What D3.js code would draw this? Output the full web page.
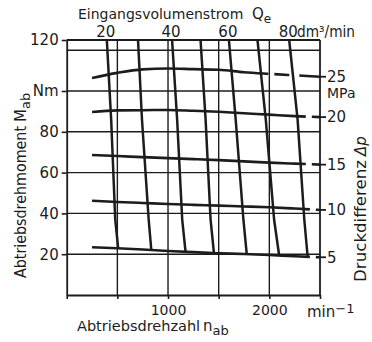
<!DOCTYPE html>
<html>
<head>
<meta charset="utf-8">
<script src="https://cdn.jsdelivr.net/npm/d3@7"></script>
<style>
  html, body { margin: 0; padding: 0; background: #fff; }
  svg { display: block; }
  text { font-family: "DejaVu Sans", sans-serif; fill: #1c1c1c; }
</style>
</head>
<body>
<svg id="chart" width="372" height="342"></svg>
<script>
// Hydraulic motor map: output torque over output speed,
// lines of constant pressure difference and of constant input flow.

// ---- axes ----
const speedMax = 2500;                       // min^-1
const torqueFrameTop = 125;                  // Nm, upper edge of the frame
const speedTicks = [0, 500, 1000, 1500, 2000, 2500];
const speedTickLabels = ["", "", "1000", "", "2000", ""];
const gridSpeeds = [500, 1000, 1500, 2000];
const gridTorques = [20, 40, 60, 80, 100, 120];
const torqueTickValues = [20, 40, 60, 80, 100, 125];
const torqueTickLabels = ["20", "40", "60", "80", "Nm", "120"];

// ---- constant pressure difference curves (MPa) ----
const pressureLevels = [5, 10, 15, 20, 25];
const curveSpeeds = [250, 500, 750, 1000, 1250, 1500, 1750, 2000, 2250, 2500];
const torqueAt5MPa  = [23.4, 22.9, 22.3, 21.6, 21.0, 20.5, 20.1, 19.6, 19.0, 18.5];
const torqueAt10MPa = [46.2, 45.6, 45.1, 44.6, 44.2, 43.8, 43.4, 43.0, 42.4, 41.7];
const torqueAt15MPa = [68.6, 68.1, 67.6, 67.1, 66.6, 66.1, 65.5, 64.9, 64.4, 63.9];
const torqueAt20MPa = [89.7, 90.5, 90.6, 90.7, 90.3, 89.8, 89.1, 88.4, 87.7, 87.2];
const torqueAt25MPa = [106.4, 108.9, 110.6, 111.0, 110.7, 110.4, 109.2, 108.4, 107.7, 107.0];
// speed beyond which each curve is only extrapolated (drawn dashed)
const dashedFrom = [2400, 2400, 2360, 2360, 1990];

// ---- constant input flow lines (dm^3/min) ----
const flowRates = [20, 30, 40, 50, 60, 70, 80];
const flowTorqueLevels = [125, 86, 37];      // Nm, where the speeds below are read
const flowSpeedTop = [396, 704, 1040, 1321, 1601, 1883, 2196];
const flowSpeedMid = [439, 743, 1090, 1371, 1668, 1965, 2279];
const flowSpeedLow = [479, 809, 1140, 1420, 1744, 2047, 2345];
const flowSpeedEnd = [508, 835, 1173, 1453, 1777, 2097, 2378]; // on the 5 MPa curve
const flowLabelRates = [20, 40, 60, 80];

const torqueSeries = [torqueAt5MPa, torqueAt10MPa, torqueAt15MPa, torqueAt20MPa, torqueAt25MPa];

const ink = "#1c1c1c";
const svg = d3.select("#chart");

const x = d3.scaleLinear().domain([0, speedMax]).range([66.7, 320]);
const y = d3.scaleLinear().domain([0, torqueFrameTop]).range([295, 40]);

// ---- grid ----
const grid = svg.append("g").attr("stroke", ink).attr("stroke-width", 1.4);
grid.selectAll("line.v").data(gridSpeeds).join("line").attr("class", "v")
  .attr("x1", d => x(d)).attr("x2", d => x(d))
  .attr("y1", y(0)).attr("y2", y(torqueFrameTop));
grid.selectAll("line.h").data(gridTorques).join("line").attr("class", "h")
  .attr("x1", x(0)).attr("x2", x(speedMax))
  .attr("y1", d => y(d)).attr("y2", d => y(d));

// ---- frame: top and right edges ----
const frame = svg.append("g").attr("stroke", ink).attr("stroke-width", 1.8).attr("fill", "none");
frame.append("line").attr("x1", x(0)).attr("x2", x(speedMax))
  .attr("y1", y(torqueFrameTop)).attr("y2", y(torqueFrameTop));
frame.append("line").attr("x1", x(speedMax)).attr("x2", x(speedMax))
  .attr("y1", y(torqueFrameTop)).attr("y2", y(0));

// ---- bottom axis ----
const bottomAxis = d3.axisBottom(x)
  .tickValues(speedTicks).tickSize(4).tickSizeOuter(0).tickPadding(6.5)
  .tickFormat((d, i) => speedTickLabels[i]);
const gb = svg.append("g").attr("transform", `translate(0,${y(0)})`).call(bottomAxis);

// ---- left axis ----
const leftAxis = d3.axisLeft(y)
  .tickValues(torqueTickValues).tickSize(5).tickSizeOuter(0).tickPadding(3)
  .tickFormat((d, i) => torqueTickLabels[i]);
const gl = svg.append("g").attr("transform", `translate(${x(0)},0)`).call(leftAxis);

[gb, gl].forEach(g => {
  g.attr("font-family", null).attr("font-size", 15);
  g.selectAll("path.domain").attr("stroke", ink).attr("stroke-width", 1.8);
  g.selectAll(".tick line").attr("stroke", ink).attr("stroke-width", 1.6);
  g.selectAll(".tick text").attr("fill", ink);
});
gb.attr("font-size", 14);

// ---- constant pressure curves ----
const curveLine = d3.line()
  .x(d => x(d[0])).y(d => y(d[1]))
  .curve(d3.curveMonotoneX);

const curves = svg.append("g").attr("fill", "none").attr("stroke", ink)
  .attr("stroke-width", 2.6).attr("stroke-linecap", "butt");

torqueSeries.forEach((series, i) => {
  const pts = curveSpeeds.map((n, j) => [n, series[j]]);
  const path = curves.append("path").attr("d", curveLine(pts));
  const node = path.node();
  const total = node.getTotalLength();
  const xCut = x(dashedFrom[i]);
  let lo = 0, hi = total;
  for (let k = 0; k < 30; k++) {
    const mid = (lo + hi) / 2;
    if (node.getPointAtLength(mid).x < xCut) lo = mid; else hi = mid;
  }
  path.attr("stroke-dasharray", `${lo} 6 15 10 80`);
});

// ---- constant flow lines ----
const torque5 = d3.scaleLinear().domain(curveSpeeds).range(torqueAt5MPa);
const flowLine = d3.line().x(d => x(d[0])).y(d => y(d[1]));
const flows = svg.append("g").attr("fill", "none").attr("stroke", ink)
  .attr("stroke-width", 2.5);
flowRates.forEach((q, k) => {
  const pts = [
    [flowSpeedTop[k], flowTorqueLevels[0]],
    [flowSpeedMid[k], flowTorqueLevels[1]],
    [flowSpeedLow[k], flowTorqueLevels[2]],
    [flowSpeedEnd[k], torque5(flowSpeedEnd[k])]
  ];
  flows.append("path").attr("d", flowLine(pts));
});

// ---- top flow scale labels ----
svg.append("g").selectAll("text").data(flowLabelRates).join("text")
  .attr("x", q => x(flowSpeedTop[flowRates.indexOf(q)]) - 1)
  .attr("y", 36.5)
  .attr("text-anchor", "middle")
  .attr("font-size", 15)
  .text(q => q);
svg.append("text").attr("x", 297).attr("y", 36.5).attr("font-size", 15)
  .attr("textLength", 58).attr("lengthAdjust", "spacingAndGlyphs")
  .text("dm³/min");

// ---- right pressure labels ----
const rightLabels = svg.append("g");
pressureLevels.forEach((p, i) => {
  const yEnd = y(torqueSeries[i][torqueSeries[i].length - 1]);
  rightLabels.append("line").attr("x1", x(speedMax)).attr("x2", x(speedMax) + 6)
    .attr("y1", yEnd).attr("y2", yEnd)
    .attr("stroke", ink).attr("stroke-width", 1.8);
  rightLabels.append("text").attr("x", x(speedMax) + 7).attr("y", yEnd)
    .attr("dy", "0.35em").attr("font-size", 15).text(p);
});
rightLabels.append("text")
  .attr("x", x(speedMax) + 7)
  .attr("y", y(torqueAt25MPa[torqueAt25MPa.length - 1]) + 16)
  .attr("dy", "0.35em").attr("font-size", 14).text("MPa");

// ---- axis titles ----
svg.append("text").attr("x", 78).attr("y", 18.5).attr("font-size", 14)
  .text("Eingangsvolumenstrom");
const flowSymbol = svg.append("text").attr("x", 252).attr("y", 18.5).attr("font-size", 15);
flowSymbol.append("tspan").text("Q");
flowSymbol.append("tspan").attr("dy", 4).attr("font-size", 12).text("e");

svg.append("text").attr("x", 77).attr("y", 331).attr("font-size", 14.5)
  .text("Abtriebsdrehzahl");
const speedSymbol = svg.append("text").attr("x", 203).attr("y", 331).attr("font-size", 15);
speedSymbol.append("tspan").text("n");
speedSymbol.append("tspan").attr("dy", 4).attr("font-size", 13).text("ab");

const speedUnit = svg.append("text").attr("x", 307).attr("y", 316.5).attr("font-size", 15);
speedUnit.append("tspan").text("min");
speedUnit.append("tspan").attr("dy", -4).attr("font-size", 13).text("−1");

const torqueTitle = svg.append("text")
  .attr("transform", "translate(26,278) rotate(-90)").attr("font-size", 15);
torqueTitle.append("tspan").attr("textLength", 152).attr("lengthAdjust", "spacingAndGlyphs")
  .text("Abtriebsdrehmoment");
torqueTitle.append("tspan").attr("x", 156).text("M");
torqueTitle.append("tspan").attr("dy", 4).attr("font-size", 13).text("ab");

const pressureTitle = svg.append("text")
  .attr("transform", "translate(366,282) rotate(-90)").attr("font-size", 15);
pressureTitle.append("tspan").attr("textLength", 122).attr("lengthAdjust", "spacingAndGlyphs")
  .text("Druckdifferenz");
pressureTitle.append("tspan").attr("x", 126).attr("font-style", "italic").text("Δp");
</script>
</body>
</html>
